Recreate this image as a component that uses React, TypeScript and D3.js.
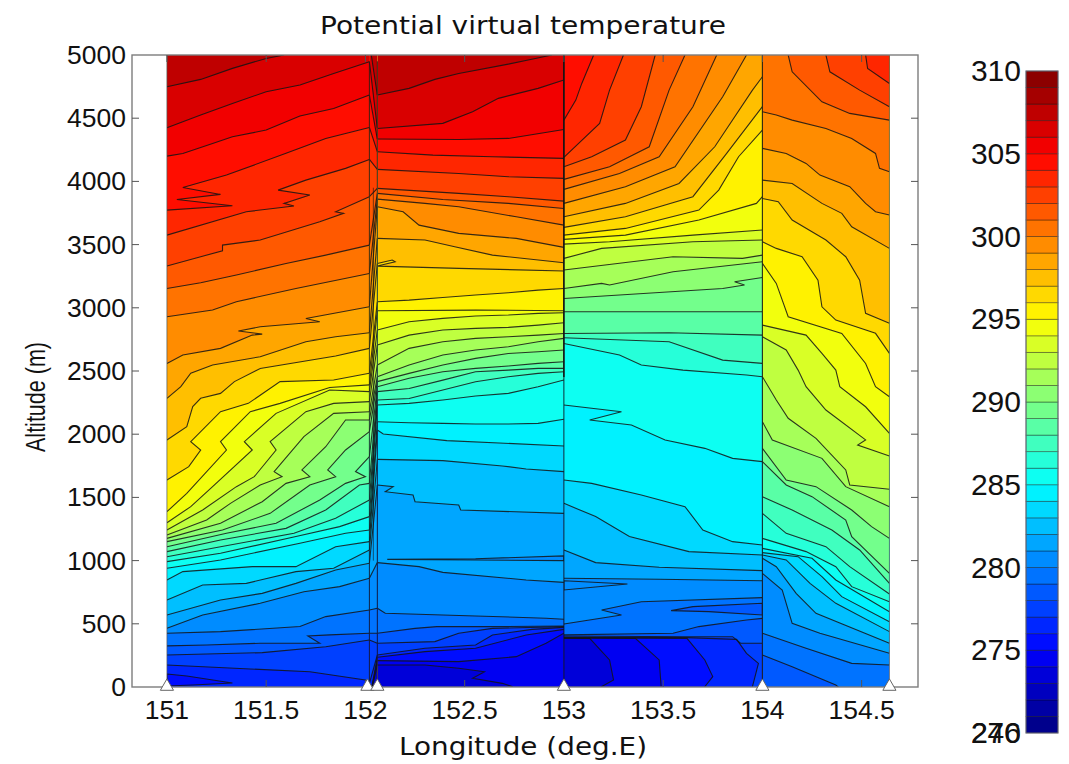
import React from "react";
import * as d3 from "d3";

// Each row: contour level (K), then lon, alt, lon, alt ....
const section1Lines: number[][] = [
  [277,151,174,151.42,143,151.72,121,152,56,152.02,29],
  [278,151,253,151.48,272,151.8,319,152.02,372],
  [279,151,325,151.2,332,151.47,346,151.77,346,151.71,404,151.82,412,152.02,425],
  [280,151,425,151.27,438,151.67,478,151.8,557,152.02,609],
  [281,151,464,151.18,570,151.47,662,151.69,754,151.87,794,152.02,860],
  [282,151,570,151.27,688,151.48,741,151.65,820,151.85,926,152.02,979],
  [283,151,688,151.18,807,151.4,820,151.65,913,151.84,939,152.02,1084],
  [284,151,847,151.08,913,151.43,952,151.65,952,151.85,1110,152.02,1150],
  [285,151,939,151.27,1005,151.67,1137,151.9,1216,152.02,1242],
  [286,151,992,151.27,1058,151.65,1190,151.87,1269,152.02,1348],
  [287,151,1031,151.27,1110,151.64,1216,151.85,1335,152.02,1480],
  [288,151,1071,151.27,1163,151.6,1255,151.8,1400,151.97,1598,152.02,1611],
  [289,151,1110,151.3,1216,151.55,1295,151.77,1480,151.9,1611,152,1664,151.95,1704,152.02,1822],
  [290,151,1150,151.28,1242,151.52,1374,151.72,1598,151.85,1664,151.81,1717,151.9,1875,152.02,2020],
  [291,151,1176,151.27,1295,151.48,1466,151.6,1611,151.72,1664,151.68,1717,151.8,1901,151.9,2112,152.02,2112],
  [292,151,1203,151.2,1321,151.32,1453,151.47,1598,151.58,1664,151.54,1704,151.69,1981,151.84,2165,152.02,2178],
  [293,151,1242,151.18,1400,151.35,1585,151.44,1664,151.55,1875,151.52,1941,151.7,2178,151.84,2244,152.02,2258],
  [294,151,1300,151.12,1427,151.23,1585,151.43,1875,151.39,1941,151.55,2165,151.82,2350,152.02,2337],
  [295,151,1387,151.1,1532,151.3,1875,151.27,1941,151.42,2178,151.57,2244,151.82,2370,152.02,2390],
  [296,151,1638,151.11,1743,151.17,1875,151.12,1941,151.27,2178,151.41,2244,151.57,2416,151.84,2429,152.02,2482],
  [297,151,1954,151.1,2060,151.13,2218,151.17,2284,151.27,2323,151.34,2416,151.47,2520,151.85,2618,152.02,2679],
  [298,151,2284,151.07,2376,151.12,2482,151.23,2547,151.47,2613,151.7,2731,151.85,2771,152.02,2803],
  [299,151,2560,151.08,2626,151.27,2679,151.43,2784,151.48,2792,151.36,2816,151.47,2850,151.77,2890,151.7,2916,152.02,3008],
  [300,151,2929,151.23,2982,151.35,3048,151.65,3153,152.02,3272],
  [301,151,3153,151.17,3198,151.35,3259,151.6,3351,151.8,3417,152.02,3496],
  [302,151,3330,151.17,3404,151.28,3451,151.28,3496,151.47,3536,151.77,3681,151.89,3747,151.85,3760,152.02,3879],
  [303,151,3575,151.4,3760,151.64,3805,151.59,3826,151.72,3892,151.56,3931,151.7,4010,151.9,4103,152.02,4174],
  [304,151,3773,151.33,3807,151.05,3857,151.27,3897,151.08,3952,151.3,4050,151.6,4222,151.8,4340,152.02,4427],
  [305,151,4200,151.08,4221,151.23,4300,151.33,4353,151.5,4406,151.67,4517,151.84,4577,152.02,4683],
  [306,151,4424,151.17,4525,151.33,4617,151.5,4709,151.67,4762,151.84,4854,152.02,4947],
  [307,151,4749,151.17,4807,151.33,4894,151.5,4973,151.59,5000],
];
const section1Patches: number[][] = [
  [5,151,103,151.1,87,151.33,32,151.13,16,151,8],
];

const section2Lines: number[][] = [
  [274,152.06,174,152.3,174,152.47,148,152.6,121,152.54,69,152.69,29,152.74,3,152.74,-50,153,-50],
  [275,152.06,209,152.47,201,152.76,240,152.91,346,153,425],
  [276,152.06,235,152.3,280,152.555,306,152.81,412,153,456],
  [277,152.06,253,152.3,306,152.555,332,152.64,412,152.84,456,153,472],
  [278,152.06,346,152.35,359,152.47,425,152.64,464,153,478],
  [279,152.06,425,152.25,464,152.36,478,152.64,478,153,483],
  [280,152.06,623,152.1,583,152.555,562,152.91,544,153,536],
  [281,152.06,984,152.27,952,152.39,907,152.81,847,153,828],
  [282,152.06,1598,152.14,1585,152.1,1545,152.24,1519,152.25,1466,152.47,1440,152.48,1400,153,1374],
  [283,152.06,1801,152.39,1791,152.69,1749,152.81,1725,153,1704],
  [284,152.06,2033,152.09,2002,152.41,1949,153,1907],
  [285,152.06,2099,152.22,2091,152.39,2086,152.555,2081,152.72,2081,152.87,2086,153,2118],
  [286,152.06,2231,152.22,2244,152.39,2271,152.555,2302,152.72,2323,152.87,2376,153,2429],
  [287,152.06,2271,152.22,2283,152.39,2349,152.555,2415,152.72,2455,152.87,2481,153,2494],
  [288,152.06,2337,152.22,2362,152.39,2428,152.555,2494,152.72,2507,152.87,2521,153,2521],
  [289,152.06,2376,152.22,2442,152.39,2494,152.555,2521,152.72,2540,152.87,2560,153,2573],
  [290,152.06,2416,152.22,2481,152.39,2547,152.555,2600,152.72,2639,152.87,2652,153,2666],
  [291,152.06,2455,152.22,2547,152.39,2626,152.555,2666,152.72,2692,152.87,2731,153,2758],
  [292,152.06,2547,152.22,2679,152.39,2731,152.555,2758,152.72,2771,152.87,2784,153,2797],
  [293,152.06,2705,152.22,2784,152.39,2824,152.555,2837,152.72,2845,152.87,2863,153,2882],
  [294,152.06,2824,152.22,2890,152.39,2916,152.555,2935,152.72,2943,152.87,2956,153,2961],
  [295,152.06,2977,152.555,2982,153,2977],
  [296,152.06,3048,152.22,3061,152.39,3082,152.555,3101,152.72,3119,152.87,3140,153,3153],
  [297,152.06,3351,152.135,3378,152.15,3364,152.06,3330,152.47,3312,153,3291],
  [298,152.06,3549,152.3,3536,152.45,3483,152.64,3417,153,3356],
  [299,152.06,3800,152.19,3760,152.27,3654,152.47,3589,152.76,3549,153,3478],
  [300,152.06,3860,152.3,3826,152.47,3800,152.76,3720,153,3654],
  [301,152.06,3905,152.39,3857,152.72,3826,153,3786],
  [302,152.06,3945,152.47,3905,152.72,3879,153,3844],
  [303,152.06,4095,152.47,4063,152.72,4037,153,4024],
  [304,152.06,4235,152.34,4208,152.64,4195,153,4182],
  [305,152.06,4335,152.47,4332,152.72,4340,153,4411],
  [306,152.06,4419,152.39,4459,152.54,4551,152.67,4657,152.87,4736,153,4802],
  [307,152.06,4683,152.22,4736,152.35,4807,152.47,4854,152.72,4928,152.82,4960,152.94,5000],
];
const section2Patches: number[][] = [
  [10,152.11,1010,152.555,1015,153,1037,153,1000,152.555,1005],
];

const section3Lines: number[][] = [
  [274,153,385,153.13,385,153.23,214,153.25,56,153.19,3,153.19,-50,154,-50],
  [275,153,388,153.36,385,153.48,214,153.49,3,153.49,-50,154,-50],
  [276,153,391,153.62,385,153.71,214,153.75,82,153.71,3,153.71,-50,154,-50],
  [277,153,393,153.62,391,153.87,377,153.92,266,153.98,187,153.95,3,153.95,-50,154,-50],
  [278,153,404,153.61,398,153.85,398,153.89,346,154,346],
  [279,153,412,153.55,425,153.68,478,153.92,530,154,543],
  [280,153,499,153.29,570,153.19,609,153.39,675,154,707],
  [281,153,860,153.48,852,154,841],
  [282,153,1084,153.16,984,153.48,947,154,921],
  [283,153,1453,153.16,1348,153.33,1190,153.63,1071,154,1044],
  [284,153,1638,153.14,1611,153.39,1519,153.61,1427,153.7,1242,153.85,1150,154,1124],
  [285,153,2231,153.29,2178,153.13,2112,153.34,2073,153.51,1954,153.71,1888,153.85,1809,154,1783],
  [286,153,2718,153.28,2626,153.39,2547,153.6,2507,153.92,2468,154,2455],
  [287,153,2763,153.53,2731,153.8,2586,154,2560],
  [288,153,2797,153.53,2803,154,2784],
  [289,153,2969,154,2969],
  [290,153,3074,153.8,3153,153.91,3180,153.86,3206,154,3240],
  [291,153,3153,153.19,3193,153.23,3180,153.55,3285,154,3364],
  [292,153,3299,153.55,3404,153.9,3391,154,3417],
  [293,153,3391,153.19,3470,153.65,3523,154,3536],
  [294,153,3504,153.23,3523,153.65,3575,154,3615],
  [295,153,3541,153.31,3575,153.68,3694,153.97,3826,154,3879],
  [296,153,3575,153.31,3628,153.68,3773,153.78,3931,153.88,4195,154,4406],
  [297,153,3636,153.31,3720,153.65,3879,153.82,4222,154,4591],
  [298,153,3720,153.31,3826,153.58,3984,153.76,4274,153.95,4722,154,4828],
  [299,153,3826,153.31,3958,153.56,4116,153.8,4670,153.92,5000],
  [300,153,3937,153.28,4063,153.48,4195,153.65,4591,153.77,5000],
  [301,153,4016,153.23,4116,153.43,4274,153.53,4722,153.61,5000],
  [302,153,4116,153.14,4195,153.31,4327,153.39,4591,153.46,5000],
  [303,153,4190,153.18,4459,153.23,4722,153.3,5000],
  [304,153,4485,153.06,4643,153.09,4775,153.15,5000],
];
const section3Patches: number[][] = [
  [10,153,841,153.32,815,153,768],
  [8,154,662,153.65,636,153.54,604,153.73,596,154,570],
];

const section4Lines: number[][] = [
  [279,154,253,154.15,161,154.37,16,154.4,-23,154.64,-23],
  [280,154,425,154.22,306,154.45,187,154.64,174],
  [281,154,899,154.1,767,154.15,504,154.29,425,154.64,267],
  [282,154,1018,154.07,952,154.17,741,154.27,583,154.64,346],
  [283,154,1044,154.12,1005,154.24,820,154.37,662,154.64,438],
  [284,154,1063,154.18,1031,154.3,873,154.4,715,154.64,517],
  [285,154,1097,154.25,1018,154.37,847,154.64,596],
  [286,154,1176,154.22,1071,154.37,952,154.45,794,154.64,675],
  [287,154,1374,154.12,1216,154.32,1110,154.44,952,154.64,736],
  [288,154,1506,154.15,1400,154.35,1242,154.49,1084,154.64,820],
  [289,154,1783,154.12,1598,154.25,1506,154.42,1321,154.45,1190,154.64,899],
  [290,154,1888,154.12,1638,154.27,1585,154.45,1400,154.55,1269,154.64,1176],
  [291,154,2099,154.05,1954,154.3,1809,154.42,1585,154.64,1427],
  [292,154,2455,154.07,2271,154.13,2126,154.27,1967,154.42,1717,154.44,1598,154.64,1564],
  [293,154,2771,154.12,2666,154.18,2507,154.22,2376,154.32,2191,154.52,1955,154.48,1914,154.64,1827],
  [294,154,2863,154.22,2784,154.3,2639,154.37,2507,154.39,2376,154.52,2217,154.64,2006],
  [295,154,3351,154.07,3193,154.13,2929,154.4,2797,154.52,2560,154.57,2376,154.64,2296],
  [296,154,3523,154.07,3470,154.2,3404,154.28,3219,154.3,3008,154.37,2903,154.57,2798,154.64,2639],
  [297,154,3865,154.08,3839,154.15,3694,154.32,3536,154.42,3404,154.49,3219,154.52,2956,154.64,2877],
  [298,154,4010,154.15,3984,154.3,3826,154.4,3747,154.45,3641,154.64,3470],
  [299,154,4261,154.12,4221,154.22,4142,154.29,4050,154.44,3958,154.52,3826,154.57,3760,154.64,3734],
  [300,154,4551,154.07,4525,154.15,4485,154.32,4419,154.45,4340,154.57,4221,154.59,4103,154.64,4076],
  [301,154.13,5000,154.15,4867,154.3,4630,154.44,4538,154.64,4485],
  [302,154.32,5000,154.34,4867,154.49,4722,154.64,4591],
  [303,154.52,5000,154.53,4894,154.64,4775],
];

const sectionBounds = [
  [151, 152.02, 6],
  [152.02, 152.06, 3],
  [152.06, 153, 3],
  [153, 154, 3],
  [154, 154.64, 8],
];
const stationLons = [151, 152.01, 152.06, 153, 154, 154.64];
const xTicks = [151, 151.5, 152, 152.5, 153, 153.5, 154, 154.5];
const xTickLabels = ["151", "151.5", "152", "152.5", "153", "153.5", "154", "154.5"];
const yTicks = [0, 500, 1000, 1500, 2000, 2500, 3000, 3500, 4000, 4500, 5000];
const barTicks = [270, 275, 280, 285, 290, 295, 300, 305, 310];
const barBandCount = 40;

const FONT = "'Liberation Sans', Arial, sans-serif";
const WIDE_FONT = "'DejaVu Sans', sans-serif";
const INK = "#141414";

const x = d3.scaleLinear().domain([150.824, 154.784]).range([132, 918]);
const y = d3.scaleLinear().domain([0, 5000]).range([687, 55]);
const barY = d3.scaleLinear().domain([270, 310]).range([733, 71]);
const jet = d3
  .scaleLinear<string>()
  .domain([0, 0.125, 0.375, 0.625, 0.875, 1])
  .range(["#00007f", "#0000ff", "#00ffff", "#ffff00", "#ff0000", "#7f0000"]);
const bandColor = (i: number) => jet((i + 0.5) / barBandCount);

const toPts = (row: number[]) => {
  const pts: [number, number][] = [];
  for (let k = 1; k < row.length; k += 2) pts.push([row[k], row[k + 1]]);
  return pts;
};
const path = d3
  .line<[number, number]>()
  .x((d) => x(d[0]))
  .y((d) => y(d[1]));

// The narrow transition strip joins section 1's right ends to section 2's left ends.
const stripLines: number[][] = section2Lines.map((row) => {
  const right = row[2];
  const match = section1Lines.find((r) => r[0] === row[0]);
  let left = -100;
  if (match) {
    const endLon = match[match.length - 2];
    left = endLon >= 152.02 ? match[match.length - 1] : 5100;
  }
  return [row[0], 152.02, left, 152.06, right];
});

function Section({ id, bound, lines, patches }: { id: string; bound: number[]; lines: number[][]; patches: number[][] }) {
  const [x0, x1, base] = bound;
  return (
    <g clipPath={`url(#${id})`}>
      <clipPath id={id}>
        <rect x={x(x0)} y={y(5000)} width={x(x1) - x(x0)} height={y(0) - y(5000)} />
      </clipPath>
      <rect x={x(x0)} y={y(5000)} width={x(x1) - x(x0)} height={y(0) - y(5000)} fill={bandColor(base)} />
      {lines.map((row) => {
        const pts = toPts(row);
        const closed: [number, number][] = [...pts, [pts[pts.length - 1][0], 5200], [pts[0][0], 5200]];
        return <path key={row[0]} d={path(closed) + "Z"} fill={bandColor(row[0] - 270)} stroke="none" />;
      })}
      {patches.map((row, i) => (
        <path key={"p" + i} d={path(toPts(row)) + "Z"} fill={bandColor(row[0])} stroke={INK} strokeWidth={1.1} strokeOpacity={0.85} />
      ))}
      {lines.map((row) => (
        <path key={"l" + row[0]} d={path(toPts(row)) ?? ""} fill="none" stroke={INK} strokeWidth={1.1} strokeOpacity={0.85} />
      ))}
    </g>
  );
}

const textStyle = { fontFamily: FONT, fill: "#111" };
const wideStyle = { fontFamily: WIDE_FONT, fill: "#111" };

export default function App() {
  const tri = d3.symbol().type(d3.symbolTriangle).size(75)() as string;
  const barBands = d3.range(barBandCount);
  return (
    <svg width={1069} height={764} style={{ position: "absolute", left: 0, top: 0, display: "block", background: "#fff" }}>
      <Section id="s1" bound={sectionBounds[0]} lines={section1Lines} patches={section1Patches} />
      <Section id="s2" bound={sectionBounds[2]} lines={section2Lines} patches={section2Patches} />
      <Section id="s3" bound={sectionBounds[3]} lines={section3Lines} patches={section3Patches} />
      <Section id="s4" bound={sectionBounds[4]} lines={section4Lines} patches={[]} />
      <Section id="s5" bound={sectionBounds[1]} lines={stripLines} patches={[]} />

      {/* section edges */}
      {[152.02, 152.06].map((v) => (
        <line key={v} x1={x(v)} x2={x(v)} y1={y(4950)} y2={y(0)} stroke={INK} strokeWidth={1} strokeOpacity={0.8} />
      ))}
      <line x1={x(152.04)} x2={x(152.04)} y1={y(3950)} y2={y(1000)} stroke={INK} strokeWidth={1} strokeOpacity={0.6} />
      <line x1={x(153)} x2={x(153)} y1={y(5000)} y2={y(2450)} stroke={INK} strokeWidth={1.7} />
      <line x1={x(153)} x2={x(153)} y1={y(2450)} y2={y(0)} stroke={INK} strokeWidth={1} strokeOpacity={0.85} />
      <line x1={x(154)} x2={x(154)} y1={y(5000)} y2={y(0)} stroke={INK} strokeWidth={1.1} strokeOpacity={0.9} />
      <line x1={x(151)} x2={x(151)} y1={y(5000)} y2={y(0)} stroke="#555" strokeWidth={0.7} />
      <line x1={x(154.64)} x2={x(154.64)} y1={y(5000)} y2={y(0)} stroke="#555" strokeWidth={0.7} />

      {/* frame and ticks */}
      <rect x={132} y={55} width={786} height={632} fill="none" stroke="#7d7d7d" strokeWidth={1.4} />
      {yTicks.slice(1, -1).map((t) => (
        <g key={t} stroke="#555" strokeWidth={1}>
          <line x1={132} x2={139} y1={y(t)} y2={y(t)} />
          <line x1={911} x2={918} y1={y(t)} y2={y(t)} />
        </g>
      ))}
      {xTicks.map((t) => (
        <g key={t} stroke="#555" strokeWidth={1}>
          <line x1={x(t)} x2={x(t)} y1={687} y2={680} />
          <line x1={x(t)} x2={x(t)} y1={55} y2={62} />
        </g>
      ))}
      {stationLons.map((v) => (
        <path key={v} d={tri} transform={`translate(${x(v)},686.5)`} fill="#fff" stroke="#666" strokeWidth={1} />
      ))}

      {/* tick labels */}
      {yTicks.map((t) => (
        <text key={t} x={126} y={y(t) + 9} textAnchor="end" fontSize={26.5} style={textStyle}>
          {t}
        </text>
      ))}
      {xTicks.map((t, i) => (
        <text key={t} x={x(t)} y={719} textAnchor="middle" fontSize={26.5} style={textStyle}>
          {xTickLabels[i]}
        </text>
      ))}
      <text x={523} y={755} textAnchor="middle" fontSize={24} textLength={248} lengthAdjust="spacingAndGlyphs" style={wideStyle}>
        Longitude (deg.E)
      </text>
      <text transform="translate(45,397) rotate(-90)" textAnchor="middle" fontSize={27} textLength={110} lengthAdjust="spacingAndGlyphs" style={textStyle}>
        Altitude (m)
      </text>
      <text x={523} y={34} textAnchor="middle" fontSize={24} textLength={406} lengthAdjust="spacingAndGlyphs" style={wideStyle}>
        Potential virtual temperature
      </text>

      {/* colour bar */}
      {barBands.map((i) => (
        <rect key={i} x={1026} width={32} y={barY(271 + i)} height={barY(270) - barY(271)} fill={bandColor(i)} stroke="#000" strokeOpacity={0.45} strokeWidth={0.8} />
      ))}
      <rect x={1026} y={barY(310)} width={32} height={barY(270) - barY(310)} fill="none" stroke="#6a6a7a" strokeWidth={1} />
      {barTicks.map((t) => (
        <text key={t} x={1021} y={barY(t) + 10} textAnchor="end" fontSize={30} style={textStyle}>
          {t}
        </text>
      ))}
      <text x={1021} y={barY(270) + 10} textAnchor="end" fontSize={30} style={textStyle}>
        246
      </text>
    </svg>
  );
}
